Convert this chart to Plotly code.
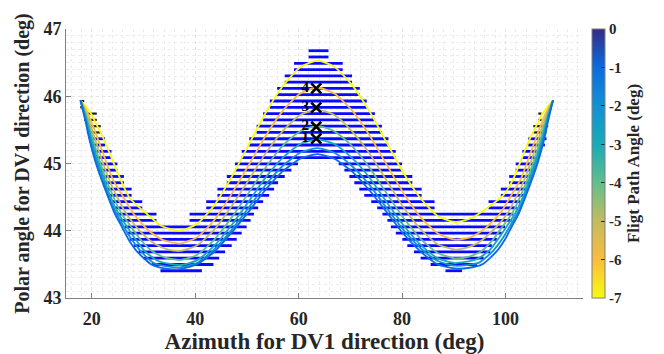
import plotly.graph_objects as go
from plotly.colors import sample_colorscale

# ---------------------------------------------------------------- data
# polar-angle levels of the reachable-azimuth bands (deg)
LEVELS = [46.677, 46.584, 46.490, 46.397, 46.303, 46.210, 46.116, 46.023,
          45.929, 45.836, 45.742, 45.649, 45.555, 45.462, 45.368, 45.275,
          45.181, 45.088, 44.994, 44.901, 44.807, 44.714, 44.620, 44.527,
          44.433, 44.340, 44.246, 44.153, 44.059, 43.966, 43.872, 43.779,
          43.685, 43.592, 43.498, 43.405]

# reachable azimuth intervals: level index, start, end (deg)
SEG_LEVEL = [0, 1, 2, 3, 4, 5, 6, 7, 8, 9, 10, 11, 12, 13, 14, 15, 16, 17,
             18, 18, 19, 19, 20, 20, 21, 21, 22, 22, 23, 23, 24, 24, 25, 25,
             26, 26, 27, 27,
             14, 15, 16, 17, 18, 19, 20, 21, 22, 23, 24, 25, 26, 27,
             28, 29, 30, 31, 32, 33, 34, 35,
             28, 29, 30, 31, 32, 33, 34, 35,
             14, 15, 16, 17, 18, 19, 20, 21, 22, 23, 24, 25]
SEG_FROM = [61.92, 61.92, 59.10, 59.10, 57.31, 57.31, 55.83, 55.83, 54.42,
            54.42, 53.13, 53.13, 51.87, 51.87, 50.44, 50.44, 48.98, 48.98,
            47.69, 67.75, 47.69, 68.85, 46.10, 69.81, 46.10, 70.77,
            44.29, 71.73, 44.29, 72.69, 42.12, 74.04, 42.12, 75.19,
            38.90, 76.21, 38.90, 77.17,
            19.48, 19.67, 20.13, 20.58, 21.10, 21.40, 21.87, 22.12, 22.69,
            23.17, 23.98, 24.42, 24.81, 25.25,
            26.35, 26.73, 27.31, 28.08, 29.04, 30.00, 31.67, 33.27,
            77.83, 78.79, 80.06, 81.02, 82.31, 83.60, 85.52, 88.40,
            104.42, 104.42, 103.27, 103.27, 101.98, 101.98, 100.71, 100.71,
            99.10, 99.10, 96.73, 96.73]
SEG_TO = [65.77, 65.77, 68.52, 68.52, 70.33, 70.33, 71.83, 71.83, 73.17,
          73.17, 74.75, 74.75, 76.10, 76.10, 77.37, 77.37, 78.79, 78.79,
          59.87, 80.00, 58.60, 80.00, 57.31, 81.98, 56.02, 81.98,
          55.25, 83.79, 54.29, 83.79, 53.13, 86.29, 52.17, 86.29,
          51.35, 101.54, 50.71, 101.21,
          22.56, 22.56, 23.79, 23.79, 24.94, 24.94, 26.21, 26.21, 27.69,
          27.69, 29.75, 29.75, 32.50, 32.50,
          49.94, 48.98, 48.02, 47.06, 45.77, 44.62, 43.52, 41.29,
          99.94, 99.29, 98.33, 97.37, 97.06, 95.77, 94.48, 91.60,
          107.94, 107.63, 106.67, 106.35, 106.02, 105.71, 105.06, 104.75,
          104.29, 103.79, 102.83, 102.17]

# short intervals near the branch tips
TIP_LEVEL = [8, 9, 10, 11, 12, 13, 10, 11, 12, 13]
TIP_FROM = [17.75, 17.75, 18.40, 18.52, 18.85, 19.04, 106.35, 106.35, 105.38, 105.38]
TIP_TO = [18.52, 18.52, 20.96, 20.96, 21.73, 21.73, 106.98, 106.98, 108.27, 107.94]

# trajectories for each flight path angle (deg)
GAMMA = [-7, -6, -5, -4, -3, -2, -1]
CURVE_X = [
    [17.8, 18.8, 19.8, 20.77, 22.37, 23.98, 25.58, 27.37, 30.7, 33.5, 37.0,
     40.3, 43.6, 46.9, 50.3, 53.6, 57.0, 60.3, 63.6,
     66.9, 70.2, 73.6, 76.9, 80.2, 83.6, 86.9, 90.2,
     93.5, 96.3, 99.63, 101.42, 103.02, 104.63, 106.23, 107.2, 108.2, 109.2],
    [17.8, 19.24, 20.0, 21.24, 22.63, 24.11, 25.7, 28.0, 31.0, 33.8, 37.0,
     40.3, 43.6, 46.9, 50.3, 53.6, 57.0, 60.3, 63.6,
     66.9, 70.2, 73.6, 76.9, 80.2, 83.6, 86.9, 90.2,
     93.2, 96.0, 99.0, 101.3, 102.89, 104.37, 105.76, 107.0, 107.76, 109.2],
    [17.8, 18.96, 19.62, 20.68, 21.95, 23.37, 24.6, 26.6, 29.5, 32.3, 34.8, 37.0,
     40.3, 43.6, 46.9, 50.3, 53.6, 57.0, 60.3, 63.6,
     66.9, 70.2, 73.6, 76.9, 80.2, 83.6, 86.9, 90.2,
     92.2, 94.7, 97.5, 100.4, 102.4, 103.63, 105.05, 106.32, 107.38, 108.04, 109.2],
    [17.8, 18.75, 19.33, 20.26, 21.45, 22.82, 23.9, 25.7, 27.5, 29.3, 31.6, 34.2, 37.0,
     40.3, 43.6, 46.9, 50.3, 53.6, 57.0, 60.3, 63.6,
     66.9, 70.2, 73.6, 76.9, 80.2, 83.6, 86.9, 90.2,
     92.8, 95.4, 97.7, 99.5, 101.3, 103.1, 104.18, 105.55, 106.74, 107.67, 108.25, 109.2],
    [17.8, 18.61, 19.13, 19.97, 21.11, 22.45, 23.4, 25.1, 26.7, 28.2, 30.2, 32.8, 37.0,
     40.3, 43.6, 46.9, 50.3, 53.6, 57.0, 60.3, 63.6,
     66.9, 70.2, 73.6, 76.9, 80.2, 83.6, 86.9, 90.2,
     94.2, 96.8, 98.8, 100.3, 101.9, 103.6, 104.55, 105.89, 107.03, 107.87, 108.39, 109.2],
    [17.8, 18.5, 18.98, 19.75, 20.84, 22.16, 23.1, 24.7, 26.2, 27.6, 29.4, 32.0, 34.5, 37.0,
     40.3, 43.6, 46.9, 50.3, 53.6, 57.0, 60.3, 63.6,
     66.9, 70.2, 73.6, 76.9, 80.2, 83.6, 86.9, 90.2,
     92.5, 95.0, 97.6, 99.4, 100.8, 102.3, 103.9, 104.84, 106.16, 107.25, 108.02, 108.5, 109.2],
    [17.8, 18.4, 18.85, 19.55, 20.6, 21.9, 22.9, 24.4, 25.8, 27.1, 28.8, 31.5, 34.0, 37.0,
     40.3, 43.6, 46.9, 50.3, 53.6, 57.0, 60.3, 63.6,
     66.9, 70.2, 73.6, 76.9, 80.2, 83.6, 86.9, 90.2,
     93.0, 95.5, 98.2, 99.9, 101.2, 102.6, 104.1, 105.1, 106.4, 107.45, 108.15, 108.6, 109.2],
]
CURVE_Y = [
    [45.94, 45.85, 45.746, 45.6, 45.35, 45.05, 44.755, 44.48, 44.246, 44.07, 44.0,
     44.10, 44.37, 44.78, 45.27, 45.75, 46.16, 46.43, 46.53,
     46.44, 46.18, 45.79, 45.33, 44.87, 44.48, 44.22, 44.13,
     44.19, 44.33, 44.53, 44.755, 45.05, 45.35, 45.6, 45.746, 45.85, 45.94],
    [45.94, 45.746, 45.6, 45.35, 45.05, 44.755, 44.55, 44.26, 44.0, 43.86, 43.81,
     43.90, 44.15, 44.53, 44.97, 45.41, 45.79, 46.04, 46.13,
     46.04, 45.80, 45.43, 45.00, 44.57, 44.20, 43.96, 43.87,
     43.90, 44.03, 44.26, 44.55, 44.755, 45.05, 45.35, 45.6, 45.746, 45.94],
    [45.94, 45.746, 45.6, 45.35, 45.05, 44.755, 44.55, 44.26, 43.98, 43.8, 43.72, 43.70,
     43.78, 44.01, 44.35, 44.75, 45.15, 45.49, 45.72, 45.80,
     45.72, 45.49, 45.16, 44.76, 44.36, 44.02, 43.80, 43.72,
     43.74, 43.82, 44.0, 44.26, 44.55, 44.755, 45.05, 45.35, 45.6, 45.746, 45.94],
    [45.94, 45.746, 45.6, 45.35, 45.05, 44.755, 44.55, 44.26, 44.07, 43.88, 43.7, 43.6, 43.565,
     43.64, 43.86, 44.18, 44.56, 44.94, 45.27, 45.48, 45.56,
     45.48, 45.27, 44.95, 44.57, 44.20, 43.88, 43.67, 43.59,
     43.61, 43.7, 43.88, 44.07, 44.26, 44.55, 44.755, 45.05, 45.35, 45.6, 45.746, 45.94],
    [45.94, 45.746, 45.6, 45.35, 45.05, 44.755, 44.55, 44.26, 44.07, 43.9, 43.7, 43.55, 43.49,
     43.56, 43.77, 44.07, 44.43, 44.79, 45.09, 45.29, 45.36,
     45.29, 45.09, 44.80, 44.44, 44.09, 43.79, 43.59, 43.52,
     43.57, 43.7, 43.9, 44.07, 44.26, 44.55, 44.755, 45.05, 45.35, 45.6, 45.746, 45.94],
    [45.94, 45.746, 45.6, 45.35, 45.05, 44.755, 44.55, 44.26, 44.06, 43.88, 43.7, 43.52, 43.47, 43.456,
     43.52, 43.72, 44.00, 44.34, 44.68, 44.97, 45.16, 45.23,
     45.16, 44.97, 44.69, 44.35, 44.02, 43.74, 43.55, 43.48,
     43.49, 43.53, 43.7, 43.88, 44.06, 44.26, 44.55, 44.755, 45.05, 45.35, 45.6, 45.746, 45.94],
    [45.94, 45.746, 45.6, 45.35, 45.05, 44.755, 44.55, 44.26, 44.06, 43.87, 43.685, 43.5, 43.44, 43.43,
     43.50, 43.68, 43.96, 44.28, 44.61, 44.89, 45.07, 45.14,
     45.07, 44.89, 44.61, 44.29, 43.96, 43.69, 43.50, 43.44,
     43.45, 43.5, 43.685, 43.87, 44.06, 44.26, 44.55, 44.755, 45.05, 45.35, 45.6, 45.746, 45.94],
]

# numbered apex points
PT_LABEL = ["1", "2", "3", "4"]
PT_X = [63.4, 63.4, 63.4, 63.4]
PT_Y = [45.37, 45.547, 45.83, 46.116]

# colour bar ticks
CB_TICKS = [0, -1, -2, -3, -4, -5, -6, -7]
X_TICKS = [20, 40, 60, 80, 100]
Y_TICKS = [43, 44, 45, 46, 47]

# reversed parula map, -7 (yellow) to 0 (dark blue)
PARULA_R = [[0.0, "#f9fb0e"], [1 / 7, "#fbbc3d"], [2 / 7, "#c3bc5f"],
            [3 / 7, "#62be8c"], [4 / 7, "#17abb9"], [5 / 7, "#1291d4"],
            [6 / 7, "#0a6ce0"], [1.0, "#352a87"]]
CMIN, CMAX = -7, 0

FONT = "Liberation Serif"
INK = "#262626"


def bold(v):
    return "<b>%s</b>" % v


# ---------------------------------------------------------------- figure
fig = go.Figure()


def band_trace(levels, x0s, x1s, color, width):
    xs, ys = [], []
    for li, a, b in zip(levels, x0s, x1s):
        xs += [a, b, None]
        ys += [LEVELS[li], LEVELS[li], None]
    return go.Scatter(x=xs, y=ys, mode="lines", hoverinfo="skip",
                      line=dict(color=color, width=width), showlegend=False)


fig.add_trace(band_trace(SEG_LEVEL, SEG_FROM, SEG_TO, "#0a0aff", 2.8))
fig.add_trace(band_trace(TIP_LEVEL, TIP_FROM, TIP_TO, "#1e1e1e", 2.2))

for g, cx, cy in zip(GAMMA, CURVE_X, CURVE_Y):
    col = sample_colorscale(PARULA_R, (g - CMIN) / (CMAX - CMIN))[0]
    fig.add_trace(go.Scatter(x=cx, y=cy, mode="lines", showlegend=False,
                             line=dict(color=col, width=1.8, shape="spline",
                                       smoothing=0.6)))

fig.add_trace(go.Scatter(
    x=PT_X, y=PT_Y, mode="markers+text", text=[bold(t) for t in PT_LABEL],
    textposition="middle left", showlegend=False,
    textfont=dict(family=FONT, size=15, color="black", weight="bold"),
    marker=dict(symbol="x-thin", size=10, color="black",
                line=dict(width=2.6, color="black"))))

# colour scale carrier
fig.add_trace(go.Scatter(
    x=[16, 16], y=[43.02, 43.02], mode="markers", showlegend=False,
    hoverinfo="skip", opacity=0,
    marker=dict(color=[CMIN, CMAX], cmin=CMIN, cmax=CMAX,
                colorscale=PARULA_R, showscale=True,
                colorbar=dict(
                    x=1.0174, xanchor="left", xpad=0, y=0.5, yanchor="middle",
                    ypad=0, len=1, lenmode="fraction", thickness=13,
                    thicknessmode="pixels", outlinecolor="#7f7f7f",
                    outlinewidth=1, ticks="inside", ticklen=4,
                    tickcolor=INK, tickvals=CB_TICKS,
                    ticktext=[bold(str(t)) for t in CB_TICKS],
                    tickfont=dict(family=FONT, size=15, color=INK,
                                  weight="bold"),
                    title=dict(text=bold("Fligt Path Angle (deg)"), side="right",
                               font=dict(family=FONT, size=17, color=INK,
                                         weight="bold"))))))

axis_common = dict(
    showline=True, linecolor="#808080", linewidth=1, mirror=False,
    ticks="inside", ticklen=5, tickcolor="#808080", zeroline=False,
    showgrid=True, gridcolor="#e4e4e4", griddash="dot", gridwidth=1,
    automargin=False,
    tickfont=dict(family=FONT, size=18, color=INK, weight="bold"),
)

fig.update_xaxes(range=[15, 115], tickvals=X_TICKS,
                 ticktext=[bold(t) for t in X_TICKS], ticklabelstandoff=4,
                 minor=dict(dtick=2, tick0=0, showgrid=True, gridcolor="#ececec",
                            griddash="dot", ticks=""),
                 title=dict(text=bold("Azimuth for DV1 direction (deg)"),
                            standoff=8,
                            font=dict(family=FONT, size=23, color=INK,
                                      weight="bold")),
                 **axis_common)
fig.update_yaxes(range=[43, 47], tickvals=Y_TICKS,
                 ticktext=[bold(t) for t in Y_TICKS],
                 minor=dict(dtick=0.1, tick0=43, showgrid=True, gridcolor="#ececec",
                            griddash="dot", ticks=""),
                 title=dict(text=bold("Polar angle for DV1 direction (deg)"),
                            standoff=8,
                            font=dict(family=FONT, size=20, color=INK,
                                      weight="bold")),
                 **axis_common)

fig.update_layout(width=664, height=354, autosize=False,
                  margin=dict(l=66, r=81, t=29, b=56),
                  paper_bgcolor="white", plot_bgcolor="white",
                  font=dict(family=FONT, color=INK))

fig.write_html("out.html")
